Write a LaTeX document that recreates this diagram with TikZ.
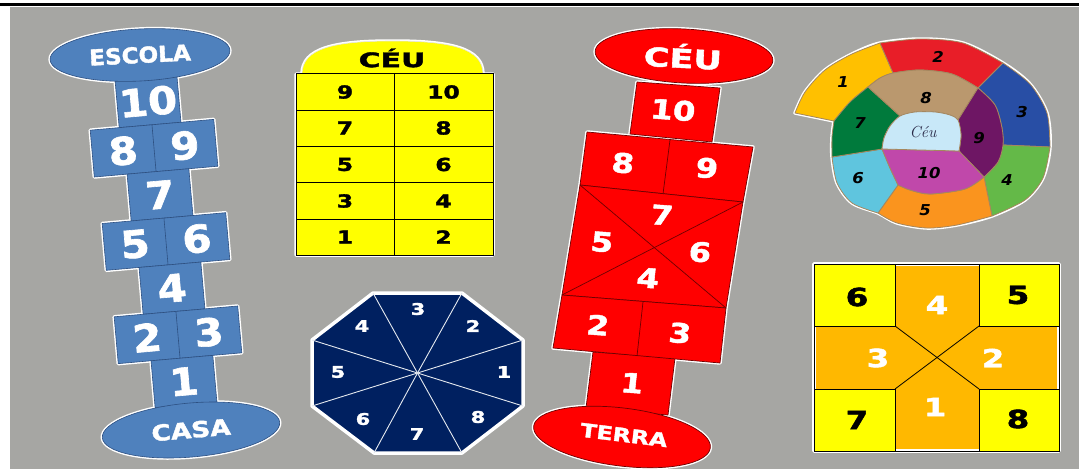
\documentclass[tikz,border=0pt]{standalone}
\usepackage{fontspec}
\newfontfamily\hopfont{DejaVu Sans}[BoldFeatures={FakeBold=1.6}]
\definecolor{bggray}{RGB}{166,166,163}
\definecolor{hopblue}{RGB}{79,129,189}
\definecolor{blueline}{RGB}{45,80,130}
\definecolor{hopred}{RGB}{255,0,0}
\definecolor{redline}{RGB}{110,0,0}
\definecolor{navy}{RGB}{0,32,96}
\definecolor{sqorange}{RGB}{255,184,0}
\definecolor{hopyellow}{RGB}{255,255,0}
\definecolor{spA}{RGB}{255,192,0}
\definecolor{spB}{RGB}{232,30,40}
\definecolor{spC}{RGB}{40,78,165}
\definecolor{spD}{RGB}{100,185,72}
\definecolor{spE}{RGB}{250,148,30}
\definecolor{spF}{RGB}{95,197,222}
\definecolor{spG}{RGB}{0,122,60}
\definecolor{spH}{RGB}{186,152,110}
\definecolor{spI}{RGB}{110,22,100}
\definecolor{spJ}{RGB}{192,72,170}
\definecolor{spK}{RGB}{200,232,248}
\definecolor{spline}{RGB}{165,135,95}
\definecolor{ceutext}{RGB}{40,40,70}
\tikzset{
  halo/.style={draw=white, line width=3.5pt, line join=round},
  bluetile/.style={fill=hopblue, draw=blueline, line width=0.6pt},
  redtile/.style={fill=hopred, draw=redline, line width=0.7pt, line join=round},
  spiece/.style={draw=spline, line width=0.8pt, line join=round},
  tline/.style={draw=black, line width=0.8pt},
  bnum/.style={text=white, inner sep=0pt, xscale=1.1, font=\hopfont\bfseries\fontsize{38}{38}\selectfont},
  rnum/.style={text=white, inner sep=0pt, xscale=1.2, rotate=-5, font=\hopfont\bfseries\fontsize{27}{27}\selectfont},
  ynum/.style={text=black, inner sep=0pt, xscale=1.3, font=\hopfont\bfseries\fontsize{18}{18}\selectfont},
  onum/.style={text=white, inner sep=0pt, xscale=1.3, font=\hopfont\bfseries\fontsize{16}{16}\selectfont},
  snum/.style={inner sep=0pt, xscale=1.3, font=\hopfont\bfseries\fontsize{25}{25}\selectfont},
  spnum/.style={text=black, inner sep=0pt, xscale=1.1, font=\hopfont\bfseries\itshape\fontsize{15}{15}\selectfont},
  bword/.style={text=white, inner sep=0pt, font=\hopfont\bfseries\fontsize{22}{22}\selectfont},
}
\begin{document}
\begin{tikzpicture}[x=1pt, y=-1pt]
\useasboundingbox (0,0) rectangle (1079,469);
% page background
\fill[white] (0,0) rectangle (1079,469);
\fill[bggray] (10,7) rectangle (1079,469);
\draw[black, line width=3pt] (0,4.5) -- (1079,4.5);

% ================= blue hopscotch =================
\begin{scope}[shift={(166,241.5)}, rotate=5, transform shape]
  \foreach \r in {
    {(-36.7,-164.5) rectangle (25.3,-117.5)},
    {(-65.8,-117.5) rectangle (58.2,-70.5)},
    {(-32.9,-70.5) rectangle (29.1,-23.5)},
    {(-62,-23.5) rectangle (62,23.5)},
    {(-29.1,23.5) rectangle (32.9,70.5)},
    {(-58.2,70.5) rectangle (65.8,117.5)},
    {(-25.3,117.5) rectangle (36.7,164.5)}} {\draw[halo] \r;}
\end{scope}
\draw[halo, rotate around={3:(140,55)}] (140,55) ellipse [x radius=90, y radius=26];
\draw[halo, rotate around={5:(191,430)}] (191,430) ellipse [x radius=89, y radius=27];
\begin{scope}[shift={(166,241.5)}, rotate=5, transform shape]
  \draw[bluetile] (-36.7,-164.5) rectangle (25.3,-117.5);
  \draw[bluetile] (-65.8,-117.5) rectangle (58.2,-70.5);
  \draw[bluetile] (-32.9,-70.5) rectangle (29.1,-23.5);
  \draw[bluetile] (-62,-23.5) rectangle (62,23.5);
  \draw[bluetile] (-29.1,23.5) rectangle (32.9,70.5);
  \draw[bluetile] (-58.2,70.5) rectangle (65.8,117.5);
  \draw[bluetile] (-25.3,117.5) rectangle (36.7,164.5);
  \draw[blueline, line width=0.6pt] (-3.8,-117.5) -- (-3.8,-70.5);
  \draw[blueline, line width=0.6pt] (0,-23.5) -- (0,23.5);
  \draw[blueline, line width=0.6pt] (3.8,70.5) -- (3.8,117.5);
  \node[bnum] (b10) at (-5.7,-141) {10};
  \node[bnum] (b8) at (-34.8,-94) {8};
  \node[bnum] (b9) at (27.2,-94) {9};
  \node[bnum] (b7) at (-1.9,-47) {7};
  \node[bnum] (b5) at (-31,0) {5};
  \node[bnum] (b6) at (31,0) {6};
  \node[bnum] (b4) at (1.9,47) {4};
  \node[bnum] (b2) at (-27.2,94) {2};
  \node[bnum] (b3) at (34.8,94) {3};
  \node[bnum] (b1) at (5.7,141) {1};
\end{scope}
\draw[bluetile, rotate around={3:(140,55)}] (140,55) ellipse [x radius=90, y radius=26];
\draw[bluetile, rotate around={5:(191,430)}] (191,430) ellipse [x radius=89, y radius=27];
\node[bword, rotate=3, xscale=1.05] (escola) at (140,55) {ESCOLA};
\node[bword, rotate=5, xscale=1.2] (casa) at (191,430) {CASA};

% ================= yellow table =================
\draw[halo] (296,74) -- (302,74) .. controls (302,48) and (335,41) .. (392.5,41)
  .. controls (450,41) and (483,48) .. (483,74) -- (493,74) -- (493,255) -- (296,255) -- cycle;
\filldraw[fill=hopyellow, draw=white!80!gray, line width=0.6pt] (302,74) .. controls (302,48) and (335,41) .. (392.5,41)
  .. controls (450,41) and (483,48) .. (483,74) -- cycle;
\filldraw[fill=hopyellow, tline] (296,73.5) rectangle (493,255);
\foreach \yy in {110,146.5,182.5,219} {\draw[tline] (296,\yy) -- (493,\yy);}
\draw[tline] (394,73.5) -- (394,255);
\node[ynum, xscale=1.15, font=\hopfont\bfseries\fontsize{20}{20}\selectfont] (yceu) at (392,58) {CÉU};
\node[ynum] (y9) at (345,92) {9};
\node[ynum] (y10) at (443.5,92) {10};
\node[ynum] (y7) at (345,128) {7};
\node[ynum] (y8) at (443.5,128) {8};
\node[ynum] (y5) at (345,164.5) {5};
\node[ynum] (y6) at (443.5,164.5) {6};
\node[ynum] (y3) at (345,201) {3};
\node[ynum] (y4) at (443.5,201) {4};
\node[ynum] (y1) at (345,237) {1};
\node[ynum] (y2) at (443.5,237) {2};

% ================= octagon =================
\coordinate (oc) at (417.5,373);
\coordinate (ov1) at (373,293);
\coordinate (ov2) at (462,293);
\coordinate (ov3) at (523,340);
\coordinate (ov4) at (523,406);
\coordinate (ov5) at (462,453);
\coordinate (ov6) at (374,453);
\coordinate (ov7) at (312,406);
\coordinate (ov8) at (312,340);
\draw[halo, fill=navy] (ov1) -- (ov2) -- (ov3) -- (ov4) -- (ov5) -- (ov6) -- (ov7) -- (ov8) -- cycle;
\foreach \v in {ov1,ov2,ov3,ov4,ov5,ov6,ov7,ov8} {\draw[white!90!navy, line width=0.9pt] (oc) -- (\v);}
\node[onum] (o3) at (418,309) {3};
\node[onum] (o2) at (473,326) {2};
\node[onum] (o1) at (504,372) {1};
\node[onum] (o8) at (478,417) {8};
\node[onum] (o7) at (417,434) {7};
\node[onum] (o6) at (363,419) {6};
\node[onum] (o5) at (338,372) {5};
\node[onum] (o4) at (362,326) {4};

% ================= red hopscotch =================
\coordinate (rA) at (587,132);
\coordinate (rB) at (753,147);
\coordinate (rC) at (580,185);
\coordinate (rD) at (743,202);
\coordinate (rE) at (562,295);
\coordinate (rF) at (726,308);
\coordinate (rG) at (553,348);
\coordinate (rH) at (720,363);
\draw[halo] (637,82) -- (720,88) -- (712,142) -- (630,134) -- cycle;
\draw[halo] (rA) -- (rB) -- (rD) -- (rF) -- (rH) -- (rG) -- (rE) -- (rC) -- cycle;
\draw[halo] (593,352) -- (675,358) -- (668,415) -- (586,408) -- cycle;
\draw[halo, rotate around={-3:(684,56)}] (684,56) ellipse [x radius=89, y radius=27];
\draw[halo, rotate around={-7:(622,437)}] (622,437) ellipse [x radius=89, y radius=29];
\draw[redtile] (637,82) -- (720,88) -- (712,142) -- (630,134) -- cycle;
\draw[redtile] (593,352) -- (675,358) -- (668,415) -- (586,408) -- cycle;
\draw[redtile] (rA) -- (rB) -- (rD) -- (rC) -- cycle;
\draw[redtile] (rC) -- (rD) -- (rF) -- (rE) -- cycle;
\draw[redtile] (rE) -- (rF) -- (rH) -- (rG) -- cycle;
\draw[redline, line width=0.7pt] (670,140) -- (663,194);
\draw[redline, line width=0.7pt] (643,302) -- (637,356);
\draw[redline, line width=0.7pt] (rC) -- (rF);
\draw[redline, line width=0.7pt] (rD) -- (rE);
\draw[redtile, rotate around={-3:(684,56)}] (684,56) ellipse [x radius=89, y radius=27];
\draw[redtile, rotate around={-7:(622,437)}] (622,437) ellipse [x radius=89, y radius=29];
\node[bword, rotate=-3, xscale=1.35, font=\hopfont\bfseries\fontsize{26}{26}\selectfont] (rceu) at (683,56) {CÉU};
\node[bword, rotate=-7, xscale=1.25, font=\hopfont\bfseries\fontsize{19}{19}\selectfont] (terra) at (624,435) {TERRA};
\node[rnum] (r10) at (673,110) {10};
\node[rnum] (r8) at (623,163) {8};
\node[rnum] (r9) at (707,168) {9};
\node[rnum] (r7) at (662,215) {7};
\node[rnum] (r5) at (602,242) {5};
\node[rnum] (r6) at (700,252) {6};
\node[rnum] (r4) at (648,278) {4};
\node[rnum] (r2) at (598,325) {2};
\node[rnum] (r3) at (680,333) {3};
\node[rnum] (r1) at (632,383) {1};

% ================= spiral =================
\coordinate (T1) at (795,113);
\coordinate (J12o) at (880,43);
\coordinate (J23o) at (1003,63);
\coordinate (J34o) at (1050,147);
\coordinate (J45o) at (992,216);
\coordinate (J56o) at (878,213);
\coordinate (J67o) at (832,157);
\coordinate (J71) at (834,121);
\coordinate (J178) at (868,87);
\coordinate (J128) at (893,73);
\coordinate (J2389) at (978,88);
\coordinate (J349) at (1003,145);
\coordinate (J459) at (984,177);
\coordinate (J5610) at (898,185);
\coordinate (J67C) at (882,149);
\coordinate (J78C) at (900,116);
\coordinate (J89C) at (958,120);
\coordinate (J910C) at (959,151);
\draw[halo, fill=spline] plot[smooth] coordinates {(T1) (805,92) (825,70) (852,54) (J12o) (920,39) (963,43) (J23o) (1030,84) (1047,113) (J34o) (1043,178) (1025,200) (J45o) (957,225) (927,228) (897,223) (J56o) (852,203) (837,183) (J67o) (832,137) (J71)} -- cycle;
% 1
\filldraw[spiece, fill=spA] (T1) -- (J71) -- plot[smooth] coordinates {(J71) (850,102) (J178) (880,78) (J128)} -- (J12o) -- plot[smooth] coordinates {(J12o) (852,54) (825,70) (805,92) (T1)} -- cycle;
% 2
\filldraw[spiece, fill=spB] plot[smooth] coordinates {(J12o) (920,39) (963,43) (J23o)} -- (J2389) -- plot[smooth] coordinates {(J2389) (952,74) (920,70) (J128)} -- cycle;
% 3
\filldraw[spiece, fill=spC] plot[smooth] coordinates {(J23o) (1030,84) (1047,113) (J34o)} -- (J349) -- plot[smooth] coordinates {(J349) (1002,128) (995,105) (J2389)} -- cycle;
% 4
\filldraw[spiece, fill=spD] plot[smooth] coordinates {(J34o) (1043,178) (1025,200) (J45o)} -- (J459) -- plot[smooth] coordinates {(J459) (998,162) (J349)} -- cycle;
% 5
\filldraw[spiece, fill=spE] plot[smooth] coordinates {(J45o) (957,225) (927,228) (897,223) (J56o)} -- (J5610) -- plot[smooth] coordinates {(J5610) (910,190) (930,194) (965,189) (J459)} -- cycle;
% 6
\filldraw[spiece, fill=spF] plot[smooth] coordinates {(J56o) (852,203) (837,183) (J67o)} -- (J67C) -- plot[smooth] coordinates {(J67C) (890,168) (J5610)} -- cycle;
% 7
\filldraw[spiece, fill=spG] plot[smooth] coordinates {(J67o) (832,137) (J71)} -- plot[smooth] coordinates {(J71) (850,102) (J178)} -- (J78C) -- plot[smooth] coordinates {(J78C) (890,126) (884,138) (J67C)} -- cycle;
% 8
\filldraw[spiece, fill=spH] plot[smooth] coordinates {(J178) (880,78) (J128) (920,70) (952,74) (J2389)} -- (J89C) -- plot[smooth] coordinates {(J89C) (950,115) (935,112) (915,112) (J78C)} -- cycle;
% 9
\filldraw[spiece, fill=spI] plot[smooth] coordinates {(J2389) (995,105) (1002,128) (J349) (998,162) (J459)} -- (J910C) -- plot[smooth] coordinates {(J910C) (961,135) (J89C)} -- cycle;
% 10
\filldraw[spiece, fill=spJ] (J67C) -- (J910C) -- (J459) -- plot[smooth] coordinates {(J459) (965,189) (930,194) (910,190) (J5610)} -- plot[smooth] coordinates {(J5610) (890,168) (J67C)} -- cycle;
% centre
\filldraw[spiece, fill=spK] plot[smooth] coordinates {(J67C) (884,138) (890,126) (J78C) (915,112) (935,112) (950,115) (J89C) (961,135) (J910C)} -- cycle;
\node[spnum] (s1) at (843,82) {1};
\node[spnum] (s2) at (938,57) {2};
\node[spnum] (s3) at (1022,112) {3};
\node[spnum] (s4) at (1007,180) {4};
\node[spnum] (s5) at (925,210) {5};
\node[spnum] (s6) at (858,178) {6};
\node[spnum] (s7) at (860,123) {7};
\node[spnum] (s8) at (926,98) {8};
\node[spnum] (s9) at (979,138) {9};
\node[spnum] (s10) at (929,173) {10};
\node[text=ceutext, inner sep=0pt, font=\itshape\fontsize{16}{16}\selectfont] (sceu) at (923,132) {Céu};

% ================= square =================
\draw[halo, fill=sqorange] (814,264) rectangle (1059,451);
\filldraw[fill=hopyellow, tline] (814,264) rectangle (895,326);
\filldraw[fill=hopyellow, tline] (979,264) rectangle (1059,326);
\filldraw[fill=hopyellow, tline] (814,389) rectangle (895,451);
\filldraw[fill=hopyellow, tline] (979,389) rectangle (1059,451);
\draw[tline] (895,326) -- (979,389);
\draw[tline] (979,326) -- (895,389);
\draw[tline] (814,264) rectangle (1059,451);
\node[snum, text=black] (q6) at (857,297) {6};
\node[snum, text=black] (q5) at (1018,295) {5};
\node[snum, text=white] (q4) at (937,305) {4};
\node[snum, text=white] (q3) at (878,358) {3};
\node[snum, text=white] (q2) at (993,358) {2};
\node[snum, text=white] (q1) at (935,407) {1};
\node[snum, text=black] (q7) at (857,420) {7};
\node[snum, text=black] (q8) at (1018,419) {8};
\end{tikzpicture}
\end{document}
